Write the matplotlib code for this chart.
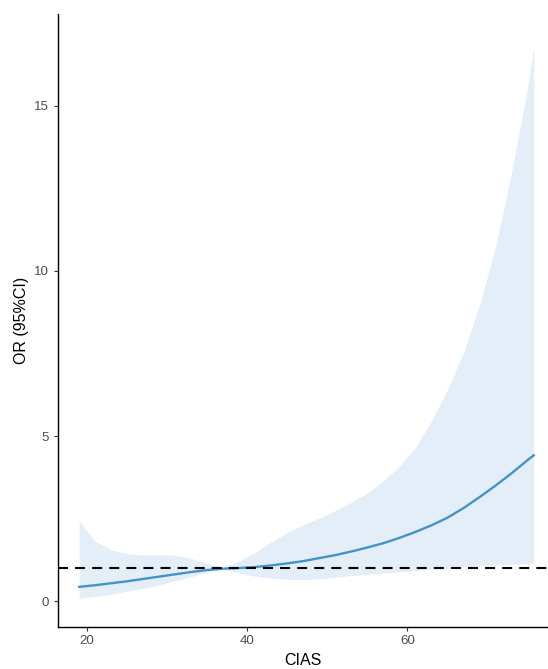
import matplotlib
matplotlib.use('Agg')
import matplotlib.pyplot as plt

# restricted cubic spline: OR and 95% CI against CIAS
cias = [19, 21, 23, 25, 27, 29, 31, 33, 35, 37, 39, 41, 43, 45, 47, 49, 51, 53, 55, 57,
        59, 61, 63, 65, 67, 69, 71, 73, 75, 75.8]
odds = [0.44, 0.49, 0.55, 0.61, 0.68, 0.75, 0.82, 0.89, 0.95, 0.99, 1.01, 1.04, 1.09, 1.15,
        1.22, 1.31, 1.40, 1.51, 1.63, 1.76, 1.92, 2.10, 2.30, 2.53, 2.82, 3.15, 3.50, 3.87,
        4.27, 4.42]
upper = [2.43, 1.82, 1.56, 1.44, 1.41, 1.41, 1.40, 1.30, 1.15, 1.03, 1.22, 1.48, 1.80, 2.08,
         2.32, 2.52, 2.75, 3.00, 3.28, 3.64, 4.08, 4.65, 5.45, 6.40, 7.50, 8.95, 10.7, 12.95,
         15.5, 16.75]
lower = [0.09, 0.15, 0.22, 0.31, 0.40, 0.50, 0.62, 0.75, 0.88, 0.98, 0.86, 0.76, 0.70, 0.67,
         0.66, 0.68, 0.73, 0.78, 0.82, 0.86, 0.89, 0.93, 0.97, 1.00, 1.04, 1.07, 1.10, 1.12,
         1.14, 1.15]
yticks = [0, 5, 10, 15]
xticks = [20, 40, 60]

plt.rcParams['font.family'] = ['Liberation Sans', 'DejaVu Sans']

fig = plt.figure(figsize=(5.48, 6.69), dpi=100)
ax = fig.add_axes([0.105, 0.063, 0.895, 0.916])

ax.fill_between(cias, lower, upper, color='#E4EEF8', lw=0)
ax.plot(cias, odds, color='#4393C9', lw=1.7)
ax.axhline(1, color='black', lw=1.5, dashes=(4.8, 3.4))

ax.set_xlim(16.29, 77.58)
ax.set_ylim(-0.77, 17.77)
ax.set_xticks(xticks)
ax.set_yticks(yticks)

for s in ['top', 'right']:
    ax.spines[s].set_visible(False)
for s in ['left', 'bottom']:
    ax.spines[s].set_linewidth(1.0)
    ax.spines[s].set_color('black')
ax.tick_params(length=3, width=0.8, color='#333333', labelcolor='#4D4D4D', labelsize=9.6, pad=3)

ax.set_xlabel('CIAS', fontsize=11.5, color='black', labelpad=4)
ax.set_ylabel('OR (95%CI)', fontsize=11.5, color='black', labelpad=4)

fig.savefig('out.png', dpi=100)
